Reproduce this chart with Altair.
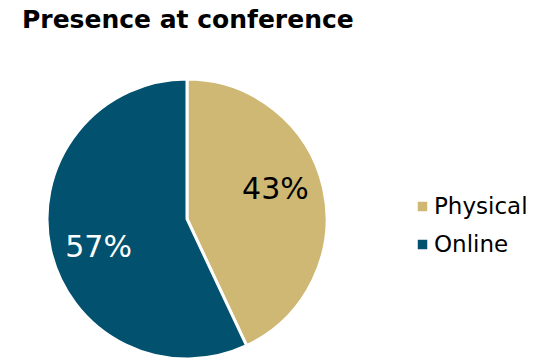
import altair as alt
import pandas as pd

categories = ["Physical", "Online"]
values = [43, 57]
labels = ["43%", "57%"]
colors = ["#CFB874", "#02516F"]
label_colors = ["#000000", "#FFFFFF"]

df = pd.DataFrame({
    "cat": categories,
    "val": values,
    "label": labels,
    "order": [0, 1],
    "lc": label_colors,
})

base = alt.Chart(df).encode(
    theta=alt.Theta("val:Q", stack=True),
    order=alt.Order("order:Q"),
    x=alt.value(187),
    y=alt.value(174),
)

pie = base.mark_arc(radius=140, stroke="white", strokeWidth=3).encode(
    color=alt.Color(
        "cat:N",
        scale=alt.Scale(domain=categories, range=colors),
        sort=categories,
        legend=alt.Legend(
            title=None,
            orient="none",
            legendX=411,
            legendY=150,
            symbolType="square",
            symbolSize=90,
            symbolStrokeWidth=0,
            labelFont="DejaVu Sans",
            labelFontSize=23,
            labelColor="#000000",
            rowPadding=14,
            padding=0,
            labelOffset=0,
        ),
    )
)

text = base.mark_text(
    radius=93, thetaOffset=-0.096, font="DejaVu Sans", fontSize=30
).encode(
    text="label:N",
    color=alt.Color("lc:N", scale=None),
)

chart = (
    alt.layer(pie, text)
    .properties(
        width=543,
        height=313,
        padding={"left": 0, "top": 45, "right": 0, "bottom": 0},
        autosize=alt.AutoSizeParams(type="none"),
        title=alt.TitleParams(
            "Presence at conference",
            anchor="start",
            font="DejaVu Sans",
            fontSize=25,
            fontWeight="bold",
            color="#000000",
            baseline="alphabetic",
            offset=-8,
            dx=22,
        ),
    )
    .configure_view(stroke=None)
)

chart.save("out.html", embed_options={"renderer": "svg", "actions": False})
